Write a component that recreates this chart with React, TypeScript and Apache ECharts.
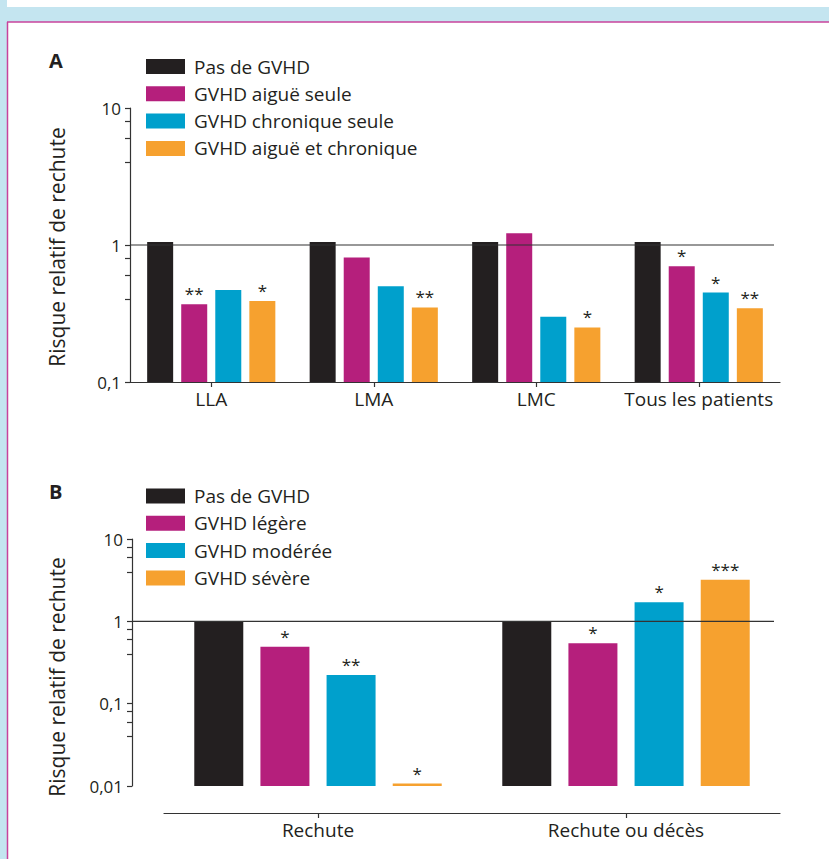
import React, { useEffect, useRef } from "react";
import * as echarts from "echarts";

// ---------- Data ----------
const catsA = ["LLA", "LMA", "LMC", "Tous les patients"];
const namesA = ["Pas de GVHD", "GVHD aiguë seule", "GVHD chronique seule", "GVHD aiguë et chronique"];
const noGvhdA = [1.05, 1.05, 1.05, 1.05];
const acuteOnlyA = [0.37, 0.81, 1.22, 0.7];
const chronicOnlyA = [0.47, 0.5, 0.3, 0.45];
const acuteChronicA = [0.39, 0.35, 0.25, 0.345];
const starsA = [
  ["", "", "", ""],
  ["**", "", "", "*"],
  ["", "", "", "*"],
  ["*", "**", "*", "**"],
];

const catsB = ["Rechute", "Rechute ou décès"];
const namesB = ["Pas de GVHD", "GVHD légère", "GVHD modérée", "GVHD sévère"];
const noGvhdB = [1.0, 1.0];
const mildB = [0.49, 0.54];
const moderateB = [0.223, 1.7];
const severeB = [0.0107, 3.2];
const starsB = [
  ["", ""],
  ["*", "*"],
  ["**", "*"],
  ["*", "***"],
];

const labelTicksA = [0.1, 1, 10];
const allTicksA = [0.1, 0.4, 0.6, 0.8, 1, 4, 6, 8, 10];
const labelTicksB = [0.01, 0.1, 1, 10];
const allTicksB = [0.01, 0.04, 0.06, 0.08, 0.1, 0.4, 0.6, 0.8, 1, 4, 6, 8, 10];

const yTitle = "Risque relatif de rechute";

// ---------- Styles ----------
const ink = "#231f20";
const font = "Open Sans";
const colors = ["#231f20", "#b51f7c", "#00a0cc", "#f6a12f"];

const fmtTick = (v: number) => {
  const n = Number(Number(v).toPrecision(3));
  return String(n).replace(".", ",");
};

export default function App() {
  const ref = useRef<HTMLDivElement>(null);

  useEffect(() => {
    if (!ref.current) return;
    const chart = echarts.init(ref.current, undefined, { renderer: "svg" });

    const dataA = [noGvhdA, acuteOnlyA, chronicOnlyA, acuteChronicA];
    const dataB = [noGvhdB, mildB, moderateB, severeB];

    const yAxisCommon = (min: number, labels: number[], ticks: number[]) => ({
      type: "log",
      logBase: 10,
      min,
      max: 10,
      startValue: min,
      axisLine: { show: true, lineStyle: { color: "#333", width: 1.2 } },
      axisTick: { show: true, length: 5, lineStyle: { color: "#333", width: 1.2 }, customValues: ticks },
      axisLabel: {
        show: true,
        margin: 9,
        fontSize: 17,
        fontFamily: font,
        color: ink,
        customValues: labels,
        formatter: (v: number) => fmtTick(v),
      },
      splitLine: { show: false },
      minorTick: { show: false },
    });

    const labelFor = (stars: string[][], i: number) => ({
      show: true,
      position: "top",
      distance: 2,
      fontSize: 17,
      fontFamily: font,
      color: ink,
      formatter: (p: any) => stars[i][p.dataIndex],
    });

    const seriesA = dataA.map((d, i) => ({
      type: "bar",
      name: namesA[i],
      xAxisIndex: 0,
      yAxisIndex: 0,
      data: d,
      barWidth: 26,
      barGap: "31%",
      itemStyle: { color: colors[i] },
      label: labelFor(starsA, i),
    }));
    const seriesB = dataB.map((d, i) => ({
      type: "bar",
      name: namesB[i],
      xAxisIndex: 1,
      yAxisIndex: 1,
      data: d,
      barWidth: 49,
      barGap: "35%",
      itemStyle: { color: colors[i] },
      label: labelFor(starsB, i),
    }));

    const legendCommon = {
      orient: "vertical",
      left: 146,
      itemWidth: 39,
      itemHeight: 15,
      itemGap: 7.3,
      padding: 0,
      icon: "rect",
      selectedMode: false,
      textStyle: { fontSize: 19, fontFamily: font, color: ink, lineHeight: 20, padding: [0, 0, 0, 4] },
    };

    const xAxisCommon = {
      type: "category",
      axisLine: { show: true, lineStyle: { color: "#333", width: 1.2 } },
      axisTick: { show: true, alignWithLabel: true, length: 5, lineStyle: { color: "#333", width: 1.2 } },
      axisLabel: { fontSize: 19, fontFamily: font, color: ink, margin: 7, interval: 0 },
      splitLine: { show: false },
    };

    const staticGraphics: any[] = [
      { type: "rect", id: "bandTop", shape: { x: 0, y: 7, width: 829, height: 15 }, style: { fill: "#c4e5f0" }, z: 0 },
      { type: "rect", id: "bandLeft", shape: { x: 0, y: 0, width: 7, height: 859 }, style: { fill: "#c4e5f0" }, z: 0 },
      { type: "line", id: "frameTop", shape: { x1: 7, y1: 22, x2: 829, y2: 22 }, style: { stroke: "#c8439c", lineWidth: 1.5 }, z: 1 },
      { type: "line", id: "frameLeft", shape: { x1: 7.5, y1: 22, x2: 7.5, y2: 859 }, style: { stroke: "#c8439c", lineWidth: 1.5 }, z: 1 },
      { type: "text", id: "lblA", x: 49, y: 60, style: { text: "A", font: `bold 20px '${font}'`, fill: ink, verticalAlign: "middle" } },
      { type: "text", id: "lblB", x: 49, y: 491, style: { text: "B", font: `bold 20px '${font}'`, fill: ink, verticalAlign: "middle" } },
      {
        type: "text", id: "titleA", x: 57, y: 247, rotation: Math.PI / 2,
        style: { text: yTitle, font: `21px '${font}'`, fill: ink, align: "center", verticalAlign: "middle" },
      },
      {
        type: "text", id: "titleB", x: 57, y: 677, rotation: Math.PI / 2,
        style: { text: yTitle, font: `21px '${font}'`, fill: ink, align: "center", verticalAlign: "middle" },
      },
    ];

    chart.setOption({
      animation: false,
      backgroundColor: "#ffffff",
      textStyle: { fontFamily: font },
      grid: [
        { left: 130, right: 49, top: 108, bottom: 859 - 382 },
        { left: 164, right: 49, top: 539, bottom: 859 - 786 },
      ],
      legend: [
        { ...legendCommon, top: 56.5, data: namesA },
        { ...legendCommon, top: 486, data: namesB },
      ],
      xAxis: [
        { ...xAxisCommon, gridIndex: 0, data: catsA },
        { ...xAxisCommon, gridIndex: 1, data: catsB, offset: 27 },
      ],
      yAxis: [
        { ...yAxisCommon(0.1, labelTicksA, allTicksA), gridIndex: 0 },
        { ...yAxisCommon(0.01, labelTicksB, allTicksB), gridIndex: 1, offset: 32 },
      ],
      series: [...seriesA, ...seriesB],
      graphic: { elements: staticGraphics },
    });

    const yA = chart.convertToPixel({ yAxisIndex: 0 }, 1) as number;
    const yB = chart.convertToPixel({ yAxisIndex: 1 }, 1) as number;
    chart.setOption({
      graphic: {
        elements: [
          ...staticGraphics,
          { type: "line", id: "refA", shape: { x1: 130, y1: yA, x2: 774, y2: yA }, style: { stroke: "#333", lineWidth: 1.2 }, z: 10 },
          { type: "line", id: "refB", shape: { x1: 132, y1: yB, x2: 774, y2: yB }, style: { stroke: "#333", lineWidth: 1.2 }, z: 10 },
        ],
      },
    });

    return () => chart.dispose();
  }, []);

  return <div ref={ref} style={{ position: "fixed", left: 0, top: 0, width: 829, height: 859 }} />;
}
